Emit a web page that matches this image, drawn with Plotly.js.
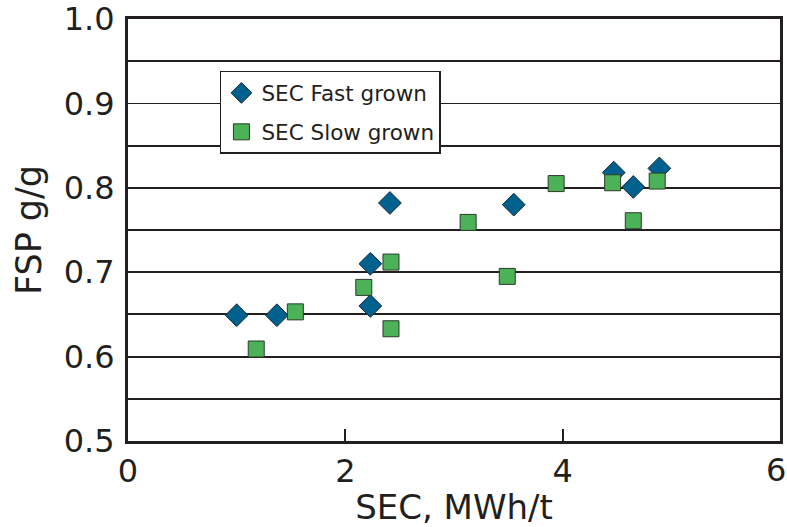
<!DOCTYPE html>
<html>
<head>
<meta charset="utf-8">
<script src="https://cdn.plot.ly/plotly-3.0.1.min.js"></script>
<style>html,body{margin:0;padding:0;background:#fff;}#chart{width:787px;height:527px;}</style>
</head>
<body>
<div id="chart"></div>
<script>
const fastX = [1.00, 1.37, 2.23, 2.23, 2.41, 3.55, 4.47, 4.65, 4.89];
const fastY = [0.649, 0.649, 0.660, 0.710, 0.782, 0.780, 0.818, 0.801, 0.823];
const slowX = [1.18, 1.54, 2.17, 2.42, 2.42, 3.13, 3.49, 3.94, 4.46, 4.65, 4.87];
const slowY = [0.609, 0.653, 0.682, 0.712, 0.633, 0.759, 0.695, 0.805, 0.806, 0.761, 0.808];
const xTicks = [0, 2, 4, 6];
const xTickText = ['0', '2', '4', '6'];
const yTicks = [0.5, 0.6, 0.7, 0.8, 0.9, 1.0];
const yTickText = ['0.5', '0.6', '0.7', '0.8', '0.9', '1.0'];

const font = 'DejaVu Sans, Verdana, sans-serif';
const ink = '#231f20';
const last = xTicks.length - 1;
const traces = [
  {x: fastX, y: fastY, name: 'SEC Fast grown', type: 'scatter', mode: 'markers', legendgroup: 'a',
   marker: {symbol: 'diamond', size: 17.5, color: '#00618f', line: {color: '#1a2a33', width: 1}}},
  {x: slowX, y: slowY, name: 'SEC Slow grown', type: 'scatter', mode: 'markers', legendgroup: 'b',
   marker: {symbol: 'square', size: 16, color: '#4cb257', line: {color: '#2a3a2a', width: 1}}}
];
const layout = {
  width: 787, height: 527,
  margin: {l: 128, r: 7, t: 19, b: 86},
  paper_bgcolor: '#fff', plot_bgcolor: '#fff',
  font: {family: font, color: ink, size: 32},
  showlegend: true,
  legend: {x: 0.141, y: 0.877, xanchor: 'left', yanchor: 'top', bgcolor: '#fff',
    bordercolor: ink, borderwidth: 1.5, font: {family: font, size: 21.5, color: ink},
    tracegroupgap: 8, itemsizing: 'trace'},
  xaxis: {range: [0, 6], tickvals: xTicks,
    ticktext: xTickText.map((t, i) => i === last ? '' : t),
    ticks: 'inside', ticklen: 12, tickwidth: 2,
    tickcolor: ink, showgrid: false, zeroline: false, showline: true, mirror: true,
    linecolor: ink, linewidth: 3, ticklabeloverflow: 'allow',
    title: {text: 'SEC, MWh/t', font: {family: font, size: 34}, standoff: 12},
    tickfont: {family: font, size: 32}},
  yaxis: {range: [0.5, 1.0], tickvals: yTicks, ticktext: yTickText, ticks: '',
    showgrid: true, gridcolor: ink, gridwidth: 1.8, zeroline: false,
    showline: true, mirror: true, linecolor: ink, linewidth: 3, ticklabeloverflow: 'allow',
    minor: {dtick: 0.05, tick0: 0.5, showgrid: true, gridcolor: ink, gridwidth: 1.8},
    title: {text: 'FSP g/g', font: {family: font, size: 35}, standoff: 12},
    tickfont: {family: font, size: 32}, ticklabelstandoff: 4},
  annotations: [{x: xTicks[last], y: 0, xref: 'x', yref: 'paper', yanchor: 'top', xanchor: 'right',
    xshift: 8, yshift: -8, showarrow: false, text: xTickText[last],
    font: {family: font, size: 32, color: ink}}]
};
Plotly.newPlot('chart', traces, layout, {displayModeBar: false, staticPlot: true});
</script>
</body>
</html>
